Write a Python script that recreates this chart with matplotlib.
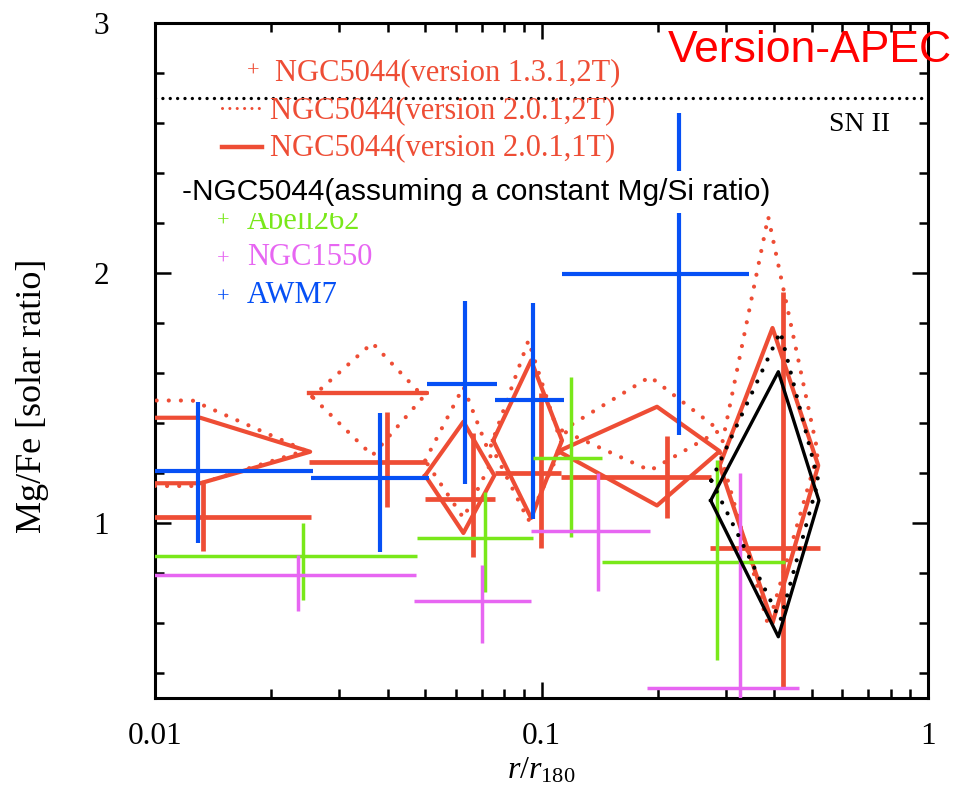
import numpy as np
import matplotlib
matplotlib.use("Agg")
import matplotlib.pyplot as plt
from matplotlib.ticker import MultipleLocator, FixedLocator, LogLocator, FuncFormatter, NullFormatter

plt.rcParams['font.family'] = ['Liberation Serif', 'DejaVu Serif']
plt.rcParams['mathtext.fontset'] = 'custom'
plt.rcParams['mathtext.rm'] = 'Liberation Serif'
plt.rcParams['mathtext.it'] = 'Liberation Serif:italic'

RED = '#EE4D35'
BLUE = '#0650F5'
GREEN = '#79E81A'
MAGENTA = '#E766F2'

# innermost annulus of every profile starts at the centre (r = 0)

# NGC5044, version 1.3.1, 2T  (crosses)
v131_x   = [0.0133, 0.0399, 0.0664, 0.0995, 0.211, 0.422]
v131_xlo = [0.0,    0.025,  0.050,  0.076,  0.112, 0.273]
v131_xhi = [0.0254, 0.0505, 0.076,  0.112,  0.275, 0.524]
v131_y   = [1.025,  1.245,  1.095,  1.20,   1.185, 0.90]
v131_ylo = [0.89,   1.065,  0.865,  0.90,   1.02,  0.345]
v131_yhi = [1.16,   1.445,  1.36,   1.52,   1.35,  1.925]

# NGC5044, version 2.0.1, 2T  (dotted diamonds)
v2t_x   = [0.0125, 0.0365, 0.0628, 0.0925, 0.191, 0.386]
v2t_xlo = [0.0,    0.0255, 0.050,  0.074,  0.113, 0.290]
v2t_xhi = [0.0245, 0.0495, 0.0745, 0.113,  0.289, 0.519]
v2t_y   = [1.29,   1.505,  1.25,   1.31,   1.37,  1.28]
v2t_ylo = [1.148,  1.27,   1.02,   1.01,   1.21,  0.59]
v2t_yhi = [1.49,   1.72,   1.545,  1.73,   1.585, 2.225]

# NGC5044, version 2.0.1, 1T  (solid diamonds)
v1t_x   = [0.0131, 0.0375, 0.0628, 0.094, 0.199,  0.396]
v1t_xlo = [0.0,    0.025,  0.050,  0.075, 0.1106, 0.289]
v1t_xhi = [0.0252, 0.0505, 0.0755, 0.113, 0.289,  0.52]
v1t_y   = [1.285,  1.52,   1.19,   1.33,  1.287,  1.23]
v1t_ylo = [1.159,  1.52,   0.96,   1.02,  1.07,   0.60]
v1t_yhi = [1.421,  1.52,   1.405,  1.65,  1.465,  1.78]

# NGC5044 with a constant Mg/Si ratio (outermost bin): 2T dotted, 1T solid
mgsi_2t = dict(x=0.415, xlo=0.275, xhi=0.52, y=1.17, ylo=0.61, yhi=1.765)
mgsi_1t = dict(x=0.41, xlo=0.274, xhi=0.522, y=1.09, ylo=0.545, yhi=1.605)

# AWM7
awm_x   = [0.01294, 0.0382, 0.0635, 0.0949, 0.2267]
awm_xlo = [0.0,     0.0254, 0.0506, 0.0760, 0.1127]
awm_xhi = [0.0257,  0.0512, 0.0766, 0.1141, 0.344]
awm_y   = [1.208,   1.179,  1.555,  1.492,  1.996]
awm_ylo = [0.919,   0.885,  1.155,  1.015,  1.352]
awm_yhi = [1.485,   1.439,  1.889,  1.879,  2.64]

# Abell262
a262_x   = [0.0241, 0.0714, 0.119,  0.2841]
a262_xlo = [0.0,    0.0476, 0.0953, 0.1431]
a262_xhi = [0.0476, 0.0953, 0.1430, 0.4275]
a262_y   = [0.868,  0.941,  1.259,  0.845]
a262_ylo = [0.692,  0.725,  0.945,  0.452]
a262_yhi = [1.001,  1.125,  1.585,  1.252]

# NGC1550
n1550_x   = [0.0235, 0.0703, 0.1403, 0.326]
n1550_xlo = [0.0,    0.0468, 0.0939, 0.1872]
n1550_xhi = [0.0474, 0.0939, 0.1905, 0.465]
n1550_y   = [0.792,  0.688,  0.968,  0.339]
n1550_ylo = [0.649,  0.521,  0.729,  0.20]
n1550_yhi = [0.872,  0.832,  1.199,  1.199]

SN2_RATIO = 2.7


def crosses(ax, x, xlo, xhi, y, ylo, yhi, **kw):
    x, xlo, xhi = map(np.asarray, (x, xlo, xhi))
    y, ylo, yhi = map(np.asarray, (y, ylo, yhi))
    ax.errorbar(x, y, xerr=[x - xlo, xhi - x], yerr=[y - ylo, yhi - y],
                fmt='none', capsize=0, **kw)


def diamond(ax, x, xlo, xhi, y, ylo, yhi, **kw):
    ax.plot([xlo, x, xhi, x, xlo], [y, yhi, y, ylo, y], **kw)


dots = dict(linestyle=(0, (0.01, 2.9)), dash_capstyle='round')

fig = plt.figure(figsize=(9.64, 7.94), dpi=100)
ax = fig.add_axes([155 / 964, 96 / 794, 773 / 964, 675 / 794])
ax.set_xscale('log', nonpositive='clip')
ax.set_xlim(0.01, 1)
ax.set_ylim(0.3, 3.0)

ax.axhline(SN2_RATIO, color='black', lw=2.4, linestyle=(0, (0.01, 2.2)),
           dash_capstyle='round', zorder=2)

crosses(ax, v131_x, v131_xlo, v131_xhi, v131_y, v131_ylo, v131_yhi,
        ecolor=RED, elinewidth=3.4, zorder=3)
for i in range(len(v2t_x)):
    diamond(ax, v2t_x[i], v2t_xlo[i], v2t_xhi[i], v2t_y[i], v2t_ylo[i], v2t_yhi[i],
            color=RED, lw=3.0, zorder=3, **dots)
for i in range(len(v1t_x)):
    diamond(ax, v1t_x[i], v1t_xlo[i], v1t_xhi[i], v1t_y[i], v1t_ylo[i], v1t_yhi[i],
            color=RED, lw=3.0, zorder=3)

crosses(ax, awm_x, awm_xlo, awm_xhi, awm_y, awm_ylo, awm_yhi,
        ecolor=BLUE, elinewidth=3.0, zorder=4)
crosses(ax, a262_x, a262_xlo, a262_xhi, a262_y, a262_ylo, a262_yhi,
        ecolor=GREEN, elinewidth=2.5, zorder=5)
crosses(ax, n1550_x, n1550_xlo, n1550_xhi, n1550_y, n1550_ylo, n1550_yhi,
        ecolor=MAGENTA, elinewidth=2.5, zorder=5)

diamond(ax, color='black', lw=3.0, zorder=6, **mgsi_2t, **dots)
diamond(ax, color='black', lw=2.4, zorder=6, **mgsi_1t)

# axes styling
for s in ax.spines.values():
    s.set_linewidth(2.2)
ax.yaxis.set_major_locator(FixedLocator([1, 2, 3]))
ax.yaxis.set_minor_locator(MultipleLocator(0.2))
ax.xaxis.set_major_locator(LogLocator(base=10))
ax.xaxis.set_minor_locator(LogLocator(base=10, subs=np.arange(2, 10)))
ax.xaxis.set_major_formatter(FuncFormatter(lambda v, _: f'{v:g}'))
ax.xaxis.set_minor_formatter(NullFormatter())
ax.yaxis.set_major_formatter(FuncFormatter(lambda v, _: f'{v:g}'))
ax.tick_params(which='both', direction='in', top=True, right=True, width=1.8)
ax.tick_params(which='major', length=11.5)
ax.tick_params(which='minor', length=6.5)
ax.tick_params(axis='x', which='major', pad=17, labelsize=22.5)
ax.tick_params(axis='y', which='major', pad=33, labelsize=22.5)

ax.set_xlabel(r'$r/r_{180}$', fontsize=23, labelpad=4)
ax.set_ylabel('Mg/Fe [solar ratio]', fontsize=26)
ax.yaxis.set_label_coords(-0.137, 0.447)

ax.text(0.872, 0.849, 'SN II', fontsize=20, va='center', transform=ax.transAxes)

# legend written out as text entries
leg = dict(fontsize=22, va='center', transform=ax.transAxes)
ax.text(0.1268, 0.9274, '+', color=RED, fontsize=16, ha='center', va='center',
        transform=ax.transAxes)
ax.text(0.1552, 0.9267, 'NGC5044(version 1.3.1,2T)', color=RED, **leg)
ax.plot([0.0867, 0.1384], [0.8741, 0.8741], color=RED, lw=2.2,
        transform=ax.transAxes, linestyle=(0, (0.01, 2.4)), dash_capstyle='round')
ax.text(0.1488, 0.8696, 'NGC5044(version 2.0.1,2T)', color=RED, **leg)
ax.plot([0.0863, 0.1381], [0.8167, 0.8167], color=RED, lw=3.2, transform=ax.transAxes)
ax.text(0.1488, 0.8156, 'NGC5044(version 2.0.1,1T)', color=RED, **leg)

ax.text(0.0884, 0.7056, '+', color=GREEN, fontsize=16, ha='center', va='center',
        transform=ax.transAxes, zorder=7)
ax.text(0.1186, 0.7052, 'Abell262', color=GREEN, zorder=7, **leg)
ax.text(0.0884, 0.6489, '+', color=MAGENTA, fontsize=16, ha='center', va='center',
        transform=ax.transAxes, zorder=7)
ax.text(0.1186, 0.6519, 'NGC1550', color=MAGENTA, zorder=7, **leg)
ax.text(0.0884, 0.5921, '+', color=BLUE, fontsize=16, ha='center', va='center',
        transform=ax.transAxes, zorder=7)
ax.text(0.1186, 0.597, 'AWM7', color=BLUE, zorder=7, **leg)

# the note sits on a white box that masks what lies underneath it
ax.text(0.0345, 0.7496, '-NGC5044(assuming a constant Mg/Si ratio)',
        family=['Liberation Sans', 'DejaVu Sans'], fontsize=21.5, va='center',
        transform=ax.transAxes, zorder=8,
        bbox=dict(facecolor='white', edgecolor='none', pad=5))

fig.text(668 / 964, (794 - 50) / 794, 'Version-APEC', color='#FF0000', fontsize=32,
         family=['Liberation Sans', 'DejaVu Sans'], va='center')

fig.savefig('out.png', dpi=100)
